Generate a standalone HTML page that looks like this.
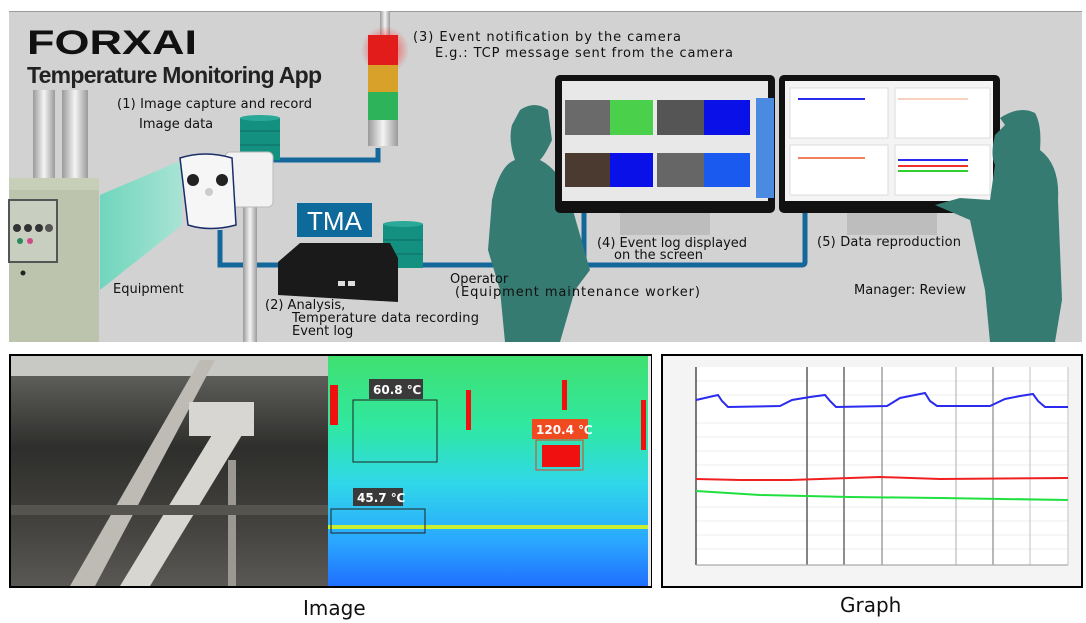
<!DOCTYPE html>
<html><head><meta charset="utf-8"><style>
html,body{margin:0;padding:0;background:#fff;}
svg{display:block;}
text{font-family:"DejaVu Sans","Liberation Sans",sans-serif;fill:#111;}
</style></head><body>
<svg width="1086" height="623" viewBox="0 0 1086 623" xmlns="http://www.w3.org/2000/svg">
<defs>
<radialGradient id="glow" cx="0.5" cy="0.5" r="0.5"><stop offset="0" stop-color="#ff2020" stop-opacity="0.9"/><stop offset="1" stop-color="#ff2020" stop-opacity="0"/></radialGradient>
<linearGradient id="tube" x1="0" x2="1"><stop offset="0" stop-color="#9a9a9a"/><stop offset="0.5" stop-color="#f4f4f4"/><stop offset="1" stop-color="#9a9a9a"/></linearGradient>
<linearGradient id="beam" x1="0" x2="1"><stop offset="0" stop-color="#6fd6bd"/><stop offset="1" stop-color="#a9e3d4"/></linearGradient>
<linearGradient id="photo" x1="0" x2="0" y1="0" y2="1"><stop offset="0" stop-color="#6a6a66"/><stop offset="0.4" stop-color="#2e2e2c"/><stop offset="0.75" stop-color="#44433f"/><stop offset="1" stop-color="#5a5854"/></linearGradient>
<linearGradient id="therm" x1="0" x2="0" y1="0" y2="1"><stop offset="0" stop-color="#40e070"/><stop offset="0.3" stop-color="#30e8a0"/><stop offset="0.55" stop-color="#30d8e8"/><stop offset="0.8" stop-color="#2aa8ff"/><stop offset="1" stop-color="#2070ff"/></linearGradient>
</defs>

<rect x="9" y="11" width="1073" height="331" fill="#d2d2d2"/>
<rect x="9" y="11" width="1073" height="1" fill="#9a9a9a"/>

<rect x="33" y="90" width="22" height="95" fill="url(#tube)"/>
<rect x="62" y="90" width="26" height="95" fill="url(#tube)"/>
<polygon points="100,195 182,160 182,225 100,290" fill="url(#beam)"/>
<rect x="9" y="178" width="90" height="164" fill="#bcc4ad"/>
<rect x="9" y="178" width="90" height="12" fill="#c8cfb8"/>
<rect x="9" y="200" width="48" height="62" fill="#c9cfc0" stroke="#555" stroke-width="2"/>
<circle cx="17" cy="228" r="4" fill="#333"/><circle cx="28" cy="228" r="4" fill="#333"/><circle cx="39" cy="228" r="4" fill="#333"/><circle cx="49" cy="228" r="4" fill="#555"/>
<circle cx="20" cy="241" r="3" fill="#2a8a5a"/><circle cx="30" cy="241" r="3" fill="#d04a8a"/>
<circle cx="23" cy="273" r="2.5" fill="#222"/>

<path d="M273 160 H378 V148" fill="none" stroke="#14679a" stroke-width="5"/>
<path d="M220 230 V265 H584 M584 213 V265 H802 Q805 265 805 262 V213" fill="none" stroke="#14679a" stroke-width="5"/>

<rect x="243" y="205" width="14" height="137" fill="url(#tube)"/>
<rect x="240" y="118" width="40" height="42" fill="#149080"/>
<ellipse cx="260" cy="118" rx="20" ry="3" fill="#2aa898"/>
<line x1="240" y1="131" x2="280" y2="131" stroke="#0d6e62"/><line x1="240" y1="145" x2="280" y2="145" stroke="#0d6e62"/>
<rect x="225" y="152" width="48" height="55" rx="5" fill="#f2f2f2" stroke="#bbb"/>
<path d="M180 158 Q205 150 232 158 L236 225 Q210 232 188 225 Z" fill="#f6f6f6" stroke="#1a2f6a" stroke-width="1.5"/>
<circle cx="193" cy="180" r="6" fill="#222"/><circle cx="222" cy="180" r="6" fill="#222"/><circle cx="209" cy="192" r="4" fill="#ccc"/>

<rect x="380" y="11" width="10" height="25" fill="url(#tube)"/>
<circle cx="385" cy="50" r="24" fill="url(#glow)"/>
<rect x="368" y="35" width="30" height="30" fill="#e21b1b"/>
<rect x="368" y="65" width="30" height="27" fill="#d8a22a"/>
<rect x="368" y="92" width="30" height="28" fill="#2db45a"/>
<rect x="368" y="120" width="30" height="26" fill="url(#tube)"/>

<rect x="297" y="203" width="75" height="34" fill="#0e6a9a"/>
<text x="334.5" y="230" font-size="26" text-anchor="middle" style="fill:#fff;font-family:'Liberation Sans',sans-serif">TMA</text>
<rect x="383" y="224" width="40" height="44" fill="#149080"/>
<ellipse cx="403" cy="224" rx="20" ry="3" fill="#2aa898"/>
<line x1="383" y1="240" x2="423" y2="240" stroke="#0d6e62"/><line x1="383" y1="254" x2="423" y2="254" stroke="#0d6e62"/>
<polygon points="300,243 390,243 398,258 398,302 278,295 278,262" fill="#1a1a1a"/>
<rect x="338" y="281" width="7" height="5" fill="#ddd"/><rect x="348" y="281" width="7" height="5" fill="#ddd"/>

<path d="M520 110 Q535 100 548 110 L552 140 Q545 155 540 160 Q560 170 570 200 L590 270 L575 290 L560 342 L505 342 L500 290 L488 250 L492 200 Q500 165 515 160 Q508 140 512 125 Z" fill="#367b72"/>

<rect x="555" y="75" width="220" height="138" rx="5" fill="#111"/>
<rect x="562" y="81" width="206" height="120" fill="#e8e8e8"/>
<rect x="565" y="100" width="45" height="35" fill="#6a6a6a"/><rect x="610" y="100" width="43" height="35" fill="#4ad04a"/>
<rect x="657" y="100" width="47" height="35" fill="#555"/><rect x="704" y="100" width="46" height="35" fill="#0a10e8"/>
<rect x="565" y="153" width="45" height="34" fill="#4a3a30"/><rect x="610" y="153" width="43" height="34" fill="#0a10e8"/>
<rect x="657" y="153" width="47" height="34" fill="#666"/><rect x="704" y="153" width="46" height="34" fill="#1a5aee"/>
<rect x="756" y="98" width="18" height="100" fill="#4a8ae0"/>
<rect x="620" y="213" width="90" height="22" fill="#bdbdbd"/>
<rect x="779" y="75" width="221" height="138" rx="5" fill="#111"/>
<rect x="785" y="81" width="208" height="120" fill="#f4f4f4"/>
<rect x="790" y="88" width="98" height="50" fill="#fff" stroke="#ddd"/><rect x="895" y="88" width="95" height="50" fill="#fff" stroke="#ddd"/>
<rect x="790" y="145" width="98" height="50" fill="#fff" stroke="#ddd"/><rect x="895" y="145" width="95" height="50" fill="#fff" stroke="#ddd"/>
<line x1="798" y1="99" x2="865" y2="99" stroke="#2a2aee" stroke-width="2"/>
<line x1="898" y1="99" x2="968" y2="99" stroke="#f0a080"/>
<line x1="798" y1="158" x2="865" y2="158" stroke="#f08060" stroke-width="2"/>
<line x1="898" y1="160" x2="968" y2="160" stroke="#2a2aee" stroke-width="2"/>
<line x1="898" y1="166" x2="968" y2="166" stroke="#f03030" stroke-width="2"/>
<line x1="898" y1="171" x2="968" y2="171" stroke="#30d030" stroke-width="2"/>
<rect x="847" y="213" width="90" height="22" fill="#bdbdbd"/>

<path d="M1000 118 Q1020 105 1035 113 Q1042 125 1040 150 Q1060 165 1058 200 L1062 300 L1055 342 L990 342 L985 290 L970 220 L935 205 L960 198 L990 200 L995 165 Q990 155 995 135 L1005 125 Z" fill="#367b72"/>

<text x="27" y="54" font-size="34" font-weight="bold" style="fill:#111;font-family:'Liberation Sans',sans-serif" textLength="170" lengthAdjust="spacingAndGlyphs">FORXAI</text>
<text x="27" y="83" font-size="23" font-weight="bold" style="fill:#222;font-family:'Liberation Sans',sans-serif" textLength="295">Temperature Monitoring App</text>

<g font-size="13">
<text x="117" y="108" textLength="195">(1) Image capture and record</text>
<text x="139" y="128">Image data</text>
<text x="413" y="41" textLength="268">(3) Event notification by the camera</text>
<text x="435" y="57" textLength="298">E.g.: TCP message sent from the camera</text>
<text x="113" y="293">Equipment</text>
<text x="265" y="309">(2) Analysis,</text>
<text x="292" y="322" textLength="187">Temperature data recording</text>
<text x="292" y="335">Event log</text>
<text x="450" y="283">Operator</text>
<text x="455" y="296" textLength="245">(Equipment maintenance worker)</text>
<text x="597" y="247" textLength="150">(4) Event log displayed</text>
<text x="614" y="259">on the screen</text>
<text x="817" y="246" textLength="144">(5) Data reproduction</text>
<text x="854" y="294" textLength="112">Manager: Review</text>
</g>

<rect x="10" y="355" width="641" height="232" fill="none" stroke="#000" stroke-width="2"/>
<rect x="11" y="356" width="317" height="230" fill="url(#photo)"/>
<rect x="11" y="356" width="317" height="20" fill="#c8c8c4"/>
<polygon points="70,586 200,360 215,360 95,586" fill="#bdbbb4"/>
<polygon points="120,586 215,430 245,430 150,586" fill="#d8d6d0"/>
<rect x="189" y="402" width="65" height="34" fill="#d8d6d2"/>
<rect x="228" y="460" width="8" height="126" fill="#9a9890"/>
<rect x="11" y="505" width="317" height="10" fill="#55544f"/>
<rect x="328" y="356" width="320" height="230" fill="url(#therm)"/>
<rect x="648" y="356" width="3" height="230" fill="#e8e8e8"/>
<rect x="328" y="525" width="320" height="4" fill="#c8f030"/>
<rect x="330" y="385" width="8" height="40" fill="#f01010"/>
<rect x="466" y="390" width="5" height="40" fill="#f01010"/>
<rect x="562" y="380" width="5" height="30" fill="#f01010"/>
<rect x="641" y="400" width="5" height="50" fill="#f01010"/>
<rect x="542" y="445" width="38" height="22" fill="#f01010"/>
<rect x="353" y="400" width="84" height="62" fill="none" stroke="#222"/>
<rect x="536" y="440" width="47" height="30" fill="none" stroke="#e04020"/>
<rect x="331" y="509" width="94" height="24" fill="none" stroke="#222"/>
<rect x="369" y="379" width="54" height="20" fill="#3a3a3a"/><text x="373" y="394" font-size="12" font-weight="bold" style="fill:#fff">60.8 ℃</text>
<rect x="532" y="419" width="56" height="20" fill="#f04a20"/><text x="536" y="434" font-size="12" font-weight="bold" style="fill:#fff">120.4 ℃</text>
<rect x="353" y="488" width="50" height="18" fill="#3a3a3a"/><text x="357" y="502" font-size="12" font-weight="bold" style="fill:#fff">45.7 ℃</text>
<text x="303" y="615" font-size="20" style="fill:#111">Image</text>

<rect x="662" y="355" width="420" height="232" fill="#f4f4f4" stroke="#000" stroke-width="2"/>
<rect x="696" y="367" width="372" height="198" fill="#fff"/>
<g stroke="#ececec">
<line x1="696" y1="381" x2="1068" y2="381"/><line x1="696" y1="395" x2="1068" y2="395"/><line x1="696" y1="423" x2="1068" y2="423"/><line x1="696" y1="437" x2="1068" y2="437"/><line x1="696" y1="451" x2="1068" y2="451"/><line x1="696" y1="465" x2="1068" y2="465"/><line x1="696" y1="507" x2="1068" y2="507"/><line x1="696" y1="521" x2="1068" y2="521"/><line x1="696" y1="535" x2="1068" y2="535"/><line x1="696" y1="549" x2="1068" y2="549"/>
</g>
<g stroke-width="1.2">
<line x1="696" y1="367" x2="696" y2="565" stroke="#222"/>
<line x1="807" y1="367" x2="807" y2="565" stroke="#333"/>
<line x1="844" y1="367" x2="844" y2="565" stroke="#444"/>
<line x1="882" y1="367" x2="882" y2="565" stroke="#888"/>
<line x1="956" y1="367" x2="956" y2="565" stroke="#bbb"/>
<line x1="993" y1="367" x2="993" y2="565" stroke="#888"/>
<line x1="1030" y1="367" x2="1030" y2="565" stroke="#ccc"/>
<line x1="1068" y1="367" x2="1068" y2="565" stroke="#ccc"/>
<line x1="696" y1="565" x2="1068" y2="565" stroke="#aaa"/>
</g>
<polyline fill="none" stroke="#2a2af0" stroke-width="2" points="696,400 718,395 722,401 728,407 780,406 792,400 810,397 825,395 830,401 836,407 887,406 900,398 925,393 930,401 937,406 990,406 1005,399 1020,396 1033,394 1038,401 1045,407 1068,407"/>
<polyline fill="none" stroke="#f02020" stroke-width="2" points="696,479 740,480 790,480 850,478 880,477 940,479 1068,478"/>
<polyline fill="none" stroke="#20e040" stroke-width="2" points="696,491 760,495 850,497 940,498 1068,500"/>
<text x="840" y="612" font-size="20" style="fill:#111">Graph</text>
</svg>
</body></html>
